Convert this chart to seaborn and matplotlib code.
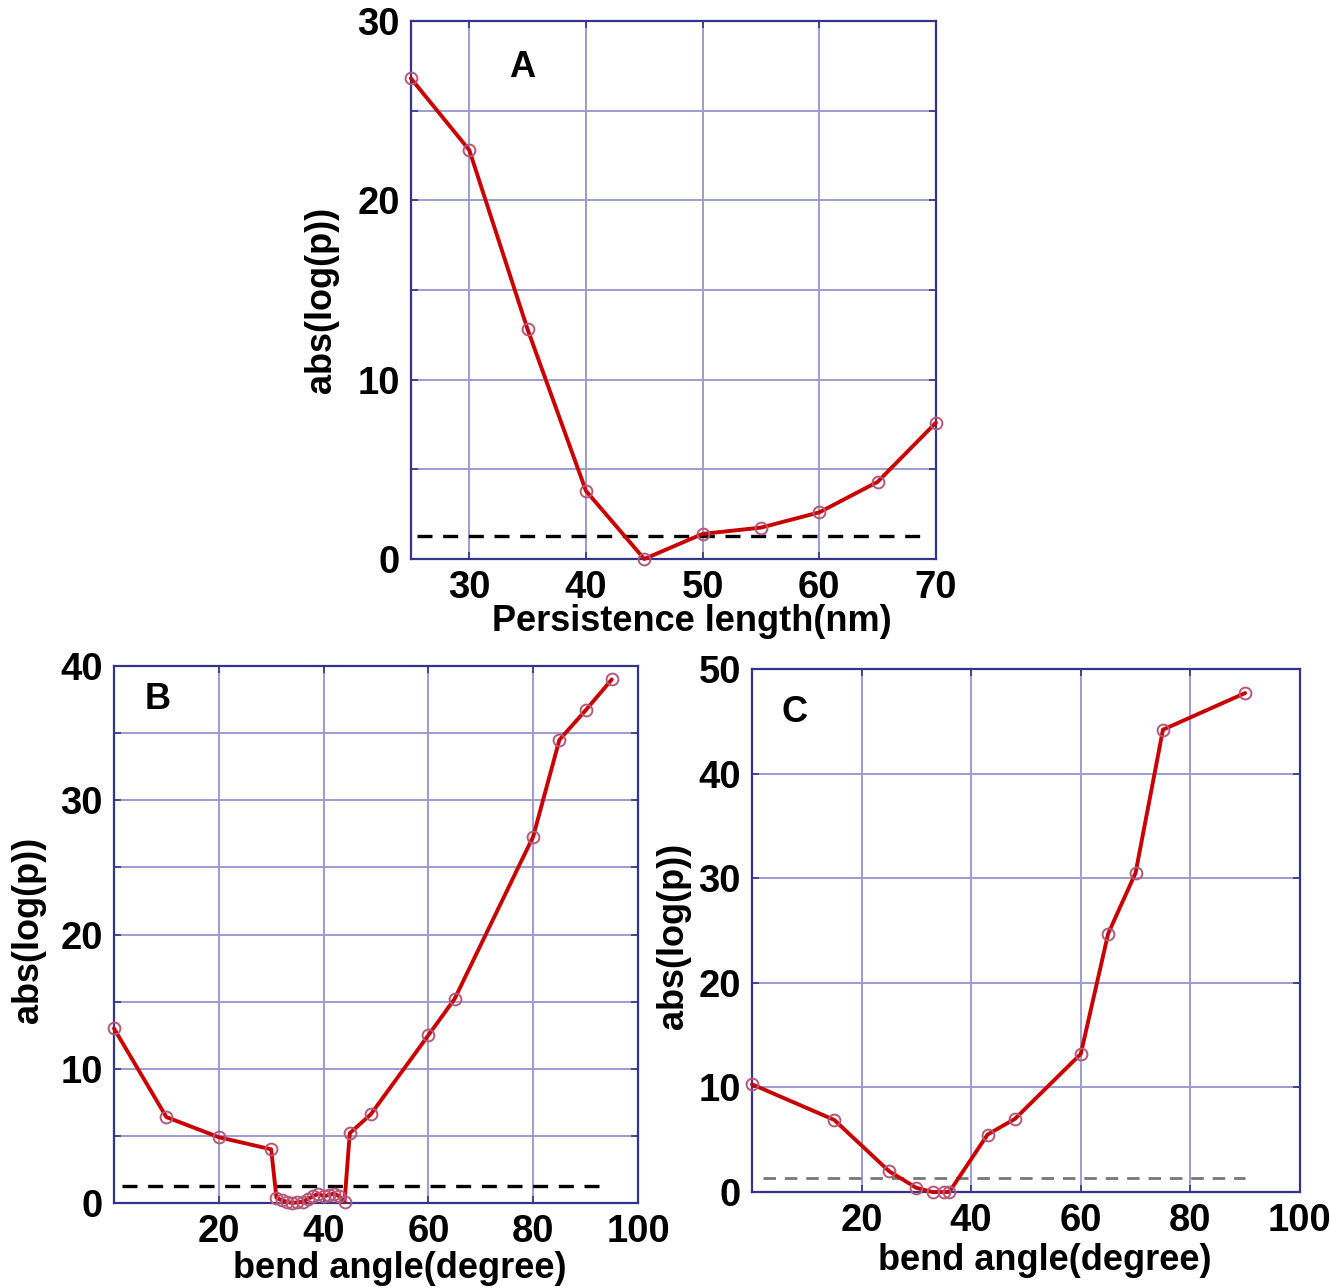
import numpy as np
import pandas as pd
import matplotlib
matplotlib.use("Agg")
import matplotlib.pyplot as plt
import seaborn as sns

# ---------------- data ----------------
# Panel A: persistence length scan
a_x = [25, 30, 35, 40, 45, 50, 55, 60, 65, 70]
a_y = [26.8, 22.8, 12.8, 3.8, 0.0, 1.4, 1.75, 2.6, 4.3, 7.6]

# Panel B: bend angle scan
b_x = [0, 10, 20, 30, 31, 32, 33, 34, 35, 36, 37, 38, 39, 40, 41, 42, 43, 44,
       45, 49, 60, 65, 80, 85, 90, 95]
b_y = [13.0, 6.4, 4.9, 4.0, 0.4, 0.2, 0.1, 0.0, 0.05, 0.1, 0.3, 0.5, 0.7, 0.5,
       0.6, 0.7, 0.5, 0.1, 5.2, 6.6, 12.5, 15.2, 27.3, 34.5, 36.7, 39.0]

# Panel C: bend angle scan
c_x = [0, 15, 25, 30, 33, 35, 36, 43, 48, 60, 65, 70, 75, 90]
c_y = [10.3, 6.9, 2.0, 0.4, 0.0, 0.0, 0.0, 5.5, 7.0, 13.2, 24.7, 30.5, 44.2, 47.7]

# significance threshold |log10(0.05)|
thr = 1.3
a_thr_x = [25.5, 69.0]
b_thr_x = [1.5, 94.0]
c_thr_x = [2.0, 90.0]

a_xticks = [30, 40, 50, 60, 70]
a_yticks = [0, 5, 10, 15, 20, 25, 30]
a_ylabels = ["0", "", "10", "", "20", "", "30"]
b_xticks = [20, 40, 60, 80, 100]
b_yticks = [0, 5, 10, 15, 20, 25, 30, 35, 40]
b_ylabels = ["0", "", "10", "", "20", "", "30", "", "40"]
c_xticks = [20, 40, 60, 80, 100]
c_yticks = [0, 10, 20, 30, 40, 50]
c_ylabels = ["0", "10", "20", "30", "40", "50"]

# ---------------- style ----------------
sns.set_theme(style="white")
plt.rcParams["font.family"] = ["Liberation Sans", "DejaVu Sans"]
plt.rcParams["font.weight"] = "bold"
plt.rcParams["text.color"] = "black"
plt.rcParams["axes.labelcolor"] = "black"

NAVY = "#34348c"
GRID = "#9c9cd2"
RED = "#c80000"
MEC = "#b4587a"
FS_T = 27.5
FS_L = 26

fig = plt.figure(figsize=(13.30, 12.88), dpi=100)
axA = fig.add_axes([0.3090, 0.5660, 0.3947, 0.4177])
axB = fig.add_axes([0.0857, 0.0660, 0.3940, 0.4169])
axC = fig.add_axes([0.5654, 0.0745, 0.4120, 0.4061])


def draw(ax, x, y, thr_x, thr_color, thr_lw, xlim, ylim, xticks, yticks, ylabels,
         xlabel, xlab_pos, ylab_pos, letter, letter_pos):
    df = pd.DataFrame({"x": x, "y": y})
    sns.lineplot(data=df, x="x", y="y", ax=ax, sort=False, estimator=None,
                 color=RED, lw=2.8, marker="o", markersize=8.5,
                 markerfacecolor="none", markeredgecolor=MEC,
                 markeredgewidth=1.4, zorder=4, clip_on=False)
    tdf = pd.DataFrame({"x": thr_x, "y": [thr] * len(thr_x)})
    sns.lineplot(data=tdf, x="x", y="y", ax=ax, sort=False, estimator=None,
                 color=thr_color, lw=thr_lw, linestyle=(0, (4.5, 3.2)), zorder=3)
    ax.set_xlim(*xlim)
    ax.set_ylim(*ylim)
    ax.set_xticks(xticks)
    ax.set_xticklabels([str(t) for t in xticks], fontsize=FS_T, fontweight="bold")
    ax.set_yticks(yticks)
    ax.set_yticklabels(ylabels, fontsize=FS_T, fontweight="bold")
    ax.grid(True, color=GRID, lw=1.4, zorder=0)
    ax.set_axisbelow(True)
    for s in ax.spines.values():
        s.set_color(NAVY)
        s.set_linewidth(1.6)
        s.set_visible(True)
    ax.tick_params(axis="both", which="both", direction="in", length=5,
                   width=1.2, color=NAVY, top=True, right=True,
                   bottom=True, left=True, labelcolor="black", pad=8)
    ax.set_xlabel(xlabel, fontsize=FS_L, fontweight="bold", color="black")
    ax.set_ylabel("abs(log(p))", fontsize=FS_L, fontweight="bold", color="black")
    ax.xaxis.set_label_coords(*xlab_pos)
    ax.yaxis.set_label_coords(*ylab_pos)
    ax.text(letter_pos[0], letter_pos[1], letter, transform=ax.transAxes,
            fontsize=FS_L, fontweight="bold", ha="center", va="center",
            color="black")


draw(axA, a_x, a_y, a_thr_x, "black", 2.4, (25, 70), (0, 30), a_xticks,
     a_yticks, a_ylabels, "Persistence length(nm)", (0.535, -0.084),
     (-0.137, 0.481), "A", (0.211, 0.914))
draw(axB, b_x, b_y, b_thr_x, "black", 2.4, (0, 100), (0, 40), b_xticks,
     b_yticks, b_ylabels, "bend angle(degree)", (0.546, -0.090),
     (-0.130, 0.508), "B", (0.084, 0.937))
draw(axC, c_x, c_y, c_thr_x, "#777777", 2.0, (0, 100), (0, 50), c_xticks,
     c_yticks, c_ylabels, "bend angle(degree)", (0.535, -0.098),
     (-0.112, 0.49), "C", (0.078, 0.916))

fig.savefig("out.png", dpi=100, facecolor="white")
